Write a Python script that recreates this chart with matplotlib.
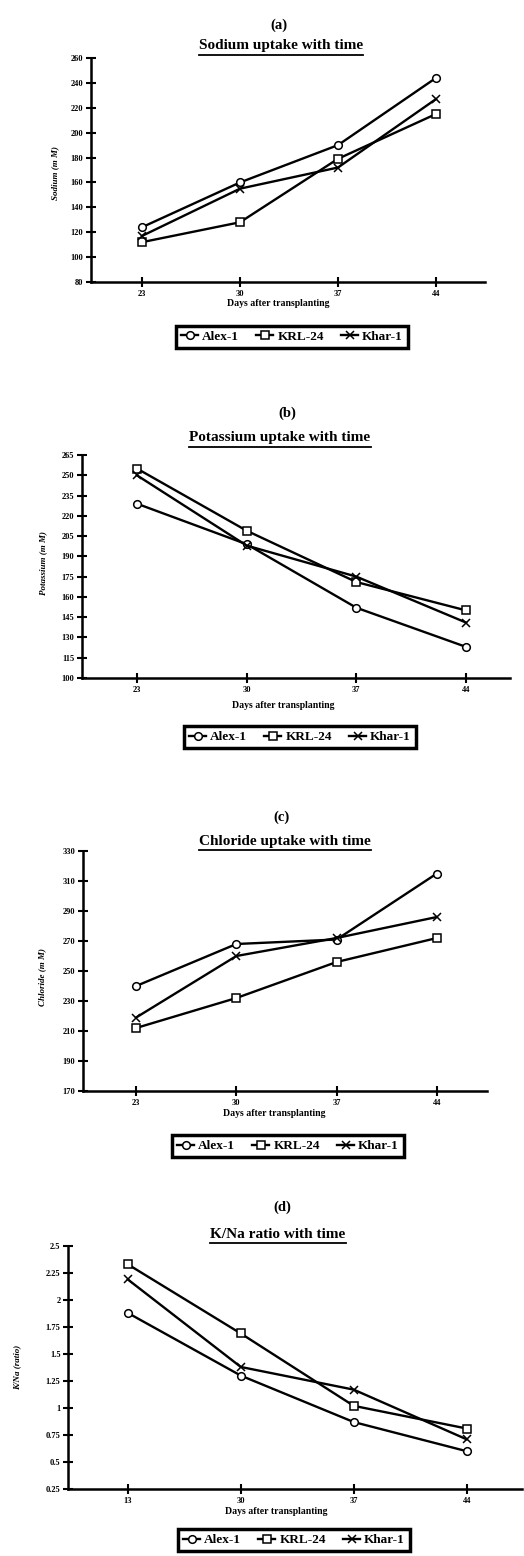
import numpy as np
import matplotlib
matplotlib.use('Agg')
import matplotlib.pyplot as plt
from matplotlib.lines import Line2D

plt.rcParams['font.family'] = ['Liberation Serif', 'DejaVu Serif']
plt.rcParams['font.weight'] = 'bold'

# --- data ---
days_abc = ['23', '30', '37', '44']
days_d = ['13', '30', '37', '44']
series = ['Alex-1', 'KRL-24', 'Khar-1']

sodium_alex = [124, 160, 190, 244]
sodium_krl = [112, 128, 179, 215]
sodium_khar = [117, 155, 172, 227]

potassium_alex = [229, 199, 152, 123]
potassium_krl = [255, 209, 171, 150]
potassium_khar = [250, 198, 175, 141]

chloride_alex = [240, 268, 271, 315]
chloride_krl = [212, 232, 256, 272]
chloride_khar = [219, 260, 272, 286]

kna_alex = [1.88, 1.30, 0.87, 0.60]
kna_krl = [2.33, 1.69, 1.02, 0.81]
kna_khar = [2.19, 1.38, 1.17, 0.71]

W, H = 524, 1556
fig = plt.figure(figsize=(W / 100, H / 100), dpi=100)


def rect(left, right, top, bottom):
    return [left / W, 1 - bottom / H, (right - left) / W, (bottom - top) / H]


def ftext(x, y, s, **kw):
    return fig.text(x / W, 1 - y / H, s, ha='center', va='center', **kw)


def underline(t, pad=2):
    r = fig.canvas.get_renderer()
    bb = t.get_window_extent(renderer=r)
    y = (bb.y0 - pad) / H
    fig.add_artist(Line2D([bb.x0 / W, bb.x1 / W], [y, y], color='black', lw=1.3,
                          transform=fig.transFigure))


panels = [
    dict(tag='(a)', title='Sodium uptake with time', ylabel='Sodium (m M)',
         vals=[sodium_alex, sodium_krl, sodium_khar], xt=days_abc,
         box=(91, 485, 58, 282), xl=(-0.52, 3.5), yl=(80, 260), ystep=20,
         tagpos=(279, 25), titlepos=(281, 46), xlpos=(278, 304), ylpos=(55, 173),
         legpos=(292, 337)),
    dict(tag='(b)', title='Potassium uptake with time', ylabel='Potassium (m M)',
         vals=[potassium_alex, potassium_krl, potassium_khar], xt=days_abc,
         box=(82, 510, 455, 678), xl=(-0.5, 3.4), yl=(100, 265), ystep=15,
         tagpos=(287, 413), titlepos=(280, 438), xlpos=(283, 705), ylpos=(43, 563),
         legpos=(300, 737)),
    dict(tag='(c)', title='Chloride uptake with time', ylabel='Chloride (m M)',
         vals=[chloride_alex, chloride_krl, chloride_khar], xt=days_abc,
         box=(83, 487, 851, 1091), xl=(-0.53, 3.5), yl=(170, 330), ystep=20,
         tagpos=(282, 817), titlepos=(285, 842), xlpos=(274, 1113), ylpos=(42, 977),
         legpos=(288, 1146)),
    dict(tag='(d)', title='K/Na ratio with time', ylabel='K/Na (ratio)',
         vals=[kna_alex, kna_krl, kna_khar], xt=days_d,
         box=(68, 522, 1246, 1489), xl=(-0.53, 3.49), yl=(0.25, 2.5), ystep=0.25,
         tagpos=(282, 1207), titlepos=(278, 1234), xlpos=(276, 1512), ylpos=(17, 1367),
         legpos=(294, 1540)),
]

styles = [dict(marker='o', mfc='white'), dict(marker='s', mfc='white'), dict(marker='x')]

for p in panels:
    ax = fig.add_axes(rect(*p['box']))
    x = np.arange(len(p['xt']))
    for name, v, st in zip(series, p['vals'], styles):
        ax.plot(x, v, color='black', lw=1.7, ms=5.5, mew=1.1, mec='black', label=name, **st)
    ax.set_xlim(*p['xl'])
    ax.set_ylim(*p['yl'])
    ax.set_xticks(x)
    ax.set_xticklabels(p['xt'])
    yt = np.arange(p['yl'][0], p['yl'][1] + p['ystep'] / 2, p['ystep'])
    ax.set_yticks(yt)
    ax.set_yticklabels(['%g' % t for t in yt])
    for s in ['top', 'right']:
        ax.spines[s].set_visible(False)
    for s in ['left', 'bottom']:
        ax.spines[s].set_linewidth(1.8)
    ax.tick_params(direction='inout', length=7, width=1.5, labelsize=6, pad=2)
    for lab in ax.get_xticklabels() + ax.get_yticklabels():
        lab.set_fontweight('bold')

    ftext(*p['tagpos'], p['tag'], fontsize=10.5, fontweight='bold')
    t = ftext(*p['titlepos'], p['title'], fontsize=11, fontweight='bold')
    underline(t)
    ftext(*p['xlpos'], 'Days after transplanting', fontsize=7, fontweight='bold')
    ftext(*p['ylpos'], p['ylabel'], fontsize=6.5, fontweight='bold', style='italic', rotation=90)

    leg = fig.legend(*ax.get_legend_handles_labels(), loc='center', ncol=3,
                     bbox_to_anchor=(p['legpos'][0] / W, 1 - p['legpos'][1] / H),
                     fontsize=9.5, frameon=True, fancybox=False, framealpha=1,
                     handlelength=1.3, handletextpad=0.3, columnspacing=1.3,
                     borderpad=0.4, borderaxespad=0)
    leg.get_frame().set_edgecolor('black')
    leg.get_frame().set_linewidth(2.5)
    for txt in leg.get_texts():
        txt.set_fontweight('bold')

fig.savefig('out.png', dpi=100)
